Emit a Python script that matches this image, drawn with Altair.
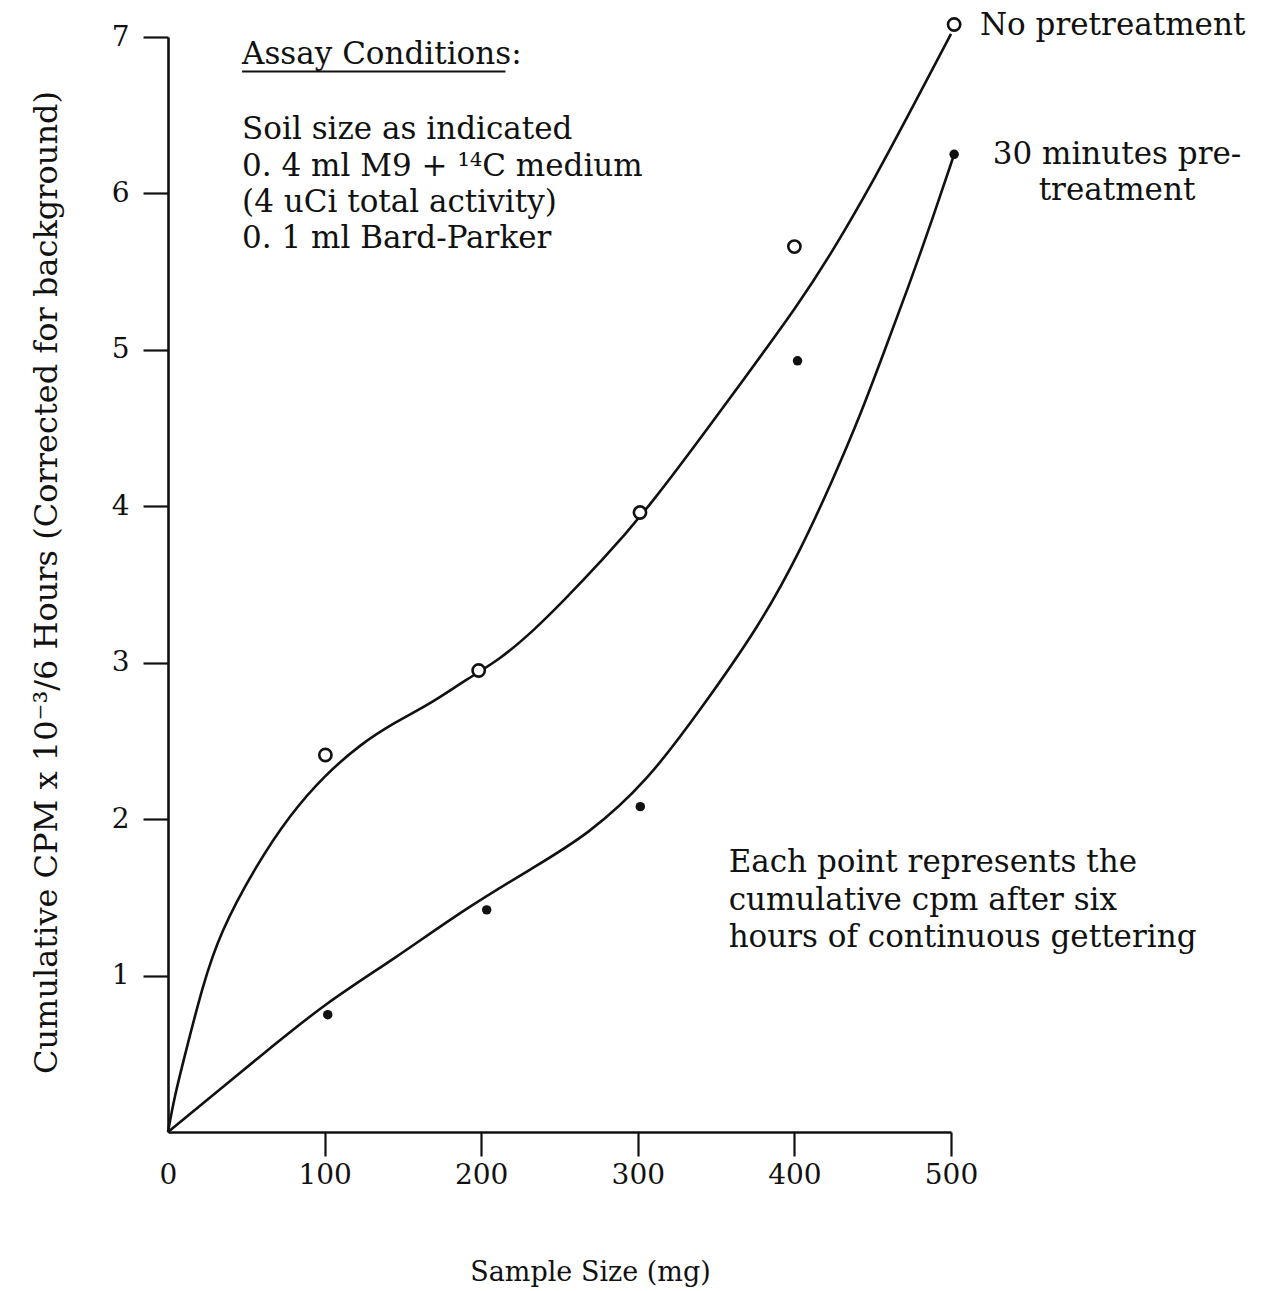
import altair as alt
import pandas as pd

# Measured points: cumulative CPM x 10^-3 over 6 hours vs. soil sample size (mg)
no_pre_mg = [100.5, 198.4, 301.4, 400.0, 502.0]
no_pre_cpm = [2.41, 2.95, 3.96, 5.66, 7.08]
pre30_mg = [102.0, 203.5, 301.6, 402.0, 502.0]
pre30_cpm = [0.75, 1.42, 2.08, 4.93, 6.25]

# Hand-fitted smooth curves through each series
no_pre_curve_mg = [0, 4, 11, 22, 33, 56, 78, 100, 123, 145, 168, 190, 212, 235,
                   251, 276, 308, 361, 404, 425, 451, 478, 500]
no_pre_curve_cpm = [0, 0.22, 0.50, 0.93, 1.27, 1.70, 2.03, 2.28, 2.48, 2.62, 2.74,
                    2.89, 3.02, 3.22, 3.38, 3.64, 4.00, 4.72, 5.31, 5.64, 6.09,
                    6.60, 7.02]
pre30_curve_mg = [0, 62, 100, 145, 190, 235, 268, 306, 340, 378, 404, 425, 442,
                  457, 472, 489, 502]
pre30_curve_cpm = [0, 0.51, 0.82, 1.11, 1.43, 1.70, 1.90, 2.24, 2.70, 3.24, 3.72,
                   4.18, 4.58, 4.98, 5.38, 5.86, 6.25]

# Axis ticks
x_ticks = [0, 100, 200, 300, 400, 500]
y_ticks = [1, 2, 3, 4, 5, 6, 7]

# Annotation text (anchored in data units)
assay_lines = ["Assay Conditions:", "Soil size as indicated",
               "0. 4 ml M9 + \u00b9\u2074C medium", "(4 uCi total activity)",
               "0. 1 ml Bard-Parker"]
assay_y = [6.83, 6.35, 6.11, 5.88, 5.65]
assay_x = 47.3
note_lines = ["Each point represents the", "cumulative cpm after six",
              "hours of continuous gettering"]
note_y = [1.66, 1.42, 1.18]
note_x = 358.0
series_labels = ["No pretreatment"]
series_label_y = [7.01]
series_label_x = 518.5
pre30_label_lines = ["30 minutes pre-", "treatment"]
pre30_label_y = [6.19, 5.96]
pre30_label_x = 606.0
underline_x = [47.3, 215.5]
underline_y = 6.78

FONT = "DejaVu Serif"
INK = "#111111"
TEXT_SIZE = 31

curves = pd.concat([
    pd.DataFrame({"x": no_pre_curve_mg, "y": no_pre_curve_cpm, "s": "none"}),
    pd.DataFrame({"x": pre30_curve_mg, "y": pre30_curve_cpm, "s": "30"}),
])
open_pts = pd.DataFrame({"x": no_pre_mg, "y": no_pre_cpm})
filled_pts = pd.DataFrame({"x": pre30_mg, "y": pre30_cpm})

left_text = pd.DataFrame({
    "x": [assay_x] * len(assay_lines) + [note_x] * len(note_lines) + [series_label_x],
    "y": assay_y + note_y + series_label_y,
    "t": assay_lines + note_lines + series_labels,
})
center_text = pd.DataFrame({
    "x": [pre30_label_x] * len(pre30_label_lines),
    "y": pre30_label_y,
    "t": pre30_label_lines,
})
underline = pd.DataFrame({"x": [underline_x[0]], "x2": [underline_x[1]], "y": [underline_y]})

x_scale = alt.Scale(domain=[0, 500], nice=False, zero=False)
y_scale = alt.Scale(domain=[0, 7], nice=False, zero=False)

x_axis = alt.Axis(
    values=x_ticks, title="Sample Size (mg)", grid=False,
    domainColor=INK, domainWidth=2.6, tickColor=INK, tickWidth=2.2, tickSize=24,
    tickOpacity=alt.condition("datum.value == 0", alt.value(0), alt.value(1)),
    labelFont=FONT, labelFontSize=28, labelColor=INK, labelPadding=5,
    labelAngle=0, labelFlush=False, labelOverlap=False,
    titleFont=FONT, titleFontSize=27, titleFontWeight="normal", titleColor=INK,
    titleX=422, titleY=148, titleBaseline="alphabetic", titleAlign="center",
)
y_axis = alt.Axis(
    values=y_ticks, title="Cumulative CPM x 10\u207b\u00b3/6 Hours (Corrected for background)",
    grid=False, domainColor=INK, domainWidth=2.6, tickColor=INK, tickWidth=2.2,
    tickSize=25, labelFont=FONT, labelFontSize=28, labelColor=INK, labelPadding=14,
    labelFlush=False, labelOverlap=False,
    titleFont=FONT, titleFontSize=32, titleFontWeight="normal", titleColor=INK,
    titleAngle=270, titleX=-112, titleY=545, titleBaseline="alphabetic",
    titleAlign="center",
)

X = alt.X("x:Q", scale=x_scale, axis=x_axis)
Y = alt.Y("y:Q", scale=y_scale, axis=y_axis)

lines = alt.Chart(curves).mark_line(
    interpolate="basis", color=INK, strokeWidth=2.6
).encode(x=X, y=Y, detail="s:N")

open_marks = alt.Chart(open_pts).mark_point(
    shape="circle", filled=True, fill="white", stroke=INK, strokeWidth=2.6,
    size=150, opacity=1
).encode(x=X, y=Y)

filled_marks = alt.Chart(filled_pts).mark_point(
    shape="circle", filled=True, color=INK, size=90, opacity=1
).encode(x=X, y=Y)

text_left = alt.Chart(left_text).mark_text(
    align="left", baseline="alphabetic", font=FONT, fontSize=TEXT_SIZE, color=INK
).encode(x=X, y=Y, text="t:N")

text_center = alt.Chart(center_text).mark_text(
    align="center", baseline="alphabetic", font=FONT, fontSize=TEXT_SIZE, color=INK
).encode(x=X, y=Y, text="t:N")

underline_mark = alt.Chart(underline).mark_rule(color=INK, strokeWidth=2).encode(
    x=X, x2="x2:Q", y=Y
)

chart = alt.layer(
    lines, open_marks, filled_marks, text_left, text_center, underline_mark
).properties(
    width=783, height=1095,
    autosize=alt.AutoSizeParams(type="none"),
    padding={"left": 168, "top": 37, "right": 317, "bottom": 159},
    background="white",
).configure_view(stroke=None)

chart.save("out.html", embed_options={"renderer": "svg", "actions": False})
